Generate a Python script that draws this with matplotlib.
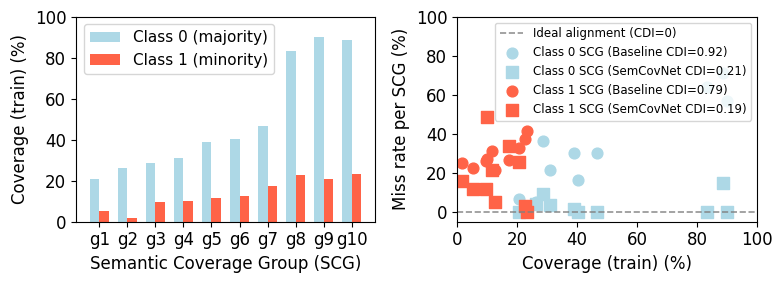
import matplotlib
matplotlib.use("Agg")
import matplotlib.pyplot as plt
import numpy as np

groups = ["g1", "g2", "g3", "g4", "g5", "g6", "g7", "g8", "g9", "g10"]
cov_c0 = [20.8, 26.2, 28.6, 31.1, 38.9, 40.3, 46.7, 83.3, 90.0, 88.5]
cov_c1 = [5.2, 1.8, 9.6, 10.1, 11.6, 12.5, 17.4, 22.8, 20.8, 23.3]

miss_c0_base = [6.5, 5.0, 36.5, 21.3, 30.3, 16.2, 30.0, 64.0, 57.0, 71.0]
miss_c0_sem = [0.0, 4.0, 9.0, 3.3, 1.3, 0.0, 0.0, 0.0, 0.0, 15.0]
miss_c1_base = [22.3, 25.0, 26.0, 27.0, 31.0, 21.3, 26.4, 37.2, 33.0, 41.6]
miss_c1_sem = [11.5, 16.0, 12.0, 48.8, 21.3, 5.0, 33.7, 3.0, 25.5, 0.0]

c0_color = "lightblue"
c1_color = "tomato"

plt.rcParams["font.size"] = 12

fig = plt.figure(figsize=(7.83, 2.83), dpi=100)
ax1 = fig.add_axes([76 / 783, 1 - 221.7 / 283, 299 / 783, 205 / 283])
ax2 = fig.add_axes([457 / 783, 1 - 221.7 / 283, 300 / 783, 205 / 283])

# left: coverage per SCG
x = np.arange(len(groups))
w = 0.35
ax1.bar(x - w / 2, cov_c0, width=w, color=c0_color, label="Class 0 (majority)")
ax1.bar(x + w / 2, cov_c1, width=w, color=c1_color, label="Class 1 (minority)")
ax1.set_xticks(x)
ax1.set_xticklabels(groups)
ax1.set_ylim(0, 100)
ax1.set_ylabel("Coverage (train) (%)")
ax1.set_xlabel("Semantic Coverage Group (SCG)")
ax1.legend(loc="upper left", fontsize=11)

# right: coverage vs miss rate
ax2.axhline(0, color="gray", linestyle="--", lw=1.2, alpha=0.85,
            label="Ideal alignment (CDI=0)")
ax2.scatter(cov_c0, miss_c0_base, s=60, marker="o", color=c0_color,
            label="Class 0 SCG (Baseline CDI=0.92)")
ax2.scatter(cov_c0, miss_c0_sem, s=70, marker="s", color=c0_color,
            label="Class 0 SCG (SemCovNet CDI=0.21)")
ax2.scatter(cov_c1, miss_c1_base, s=60, marker="o", color=c1_color,
            label="Class 1 SCG (Baseline CDI=0.79)")
ax2.scatter(cov_c1, miss_c1_sem, s=70, marker="s", color=c1_color,
            label="Class 1 SCG (SemCovNet CDI=0.19)")
ax2.set_xlim(0, 100)
ax2.set_ylim(-5, 100)
ax2.set_xlabel("Coverage (train) (%)")
ax2.set_ylabel("Miss rate per SCG (%)")
ax2.legend(loc="upper right", fontsize=8.5)

plt.savefig("out.png", dpi=100)
